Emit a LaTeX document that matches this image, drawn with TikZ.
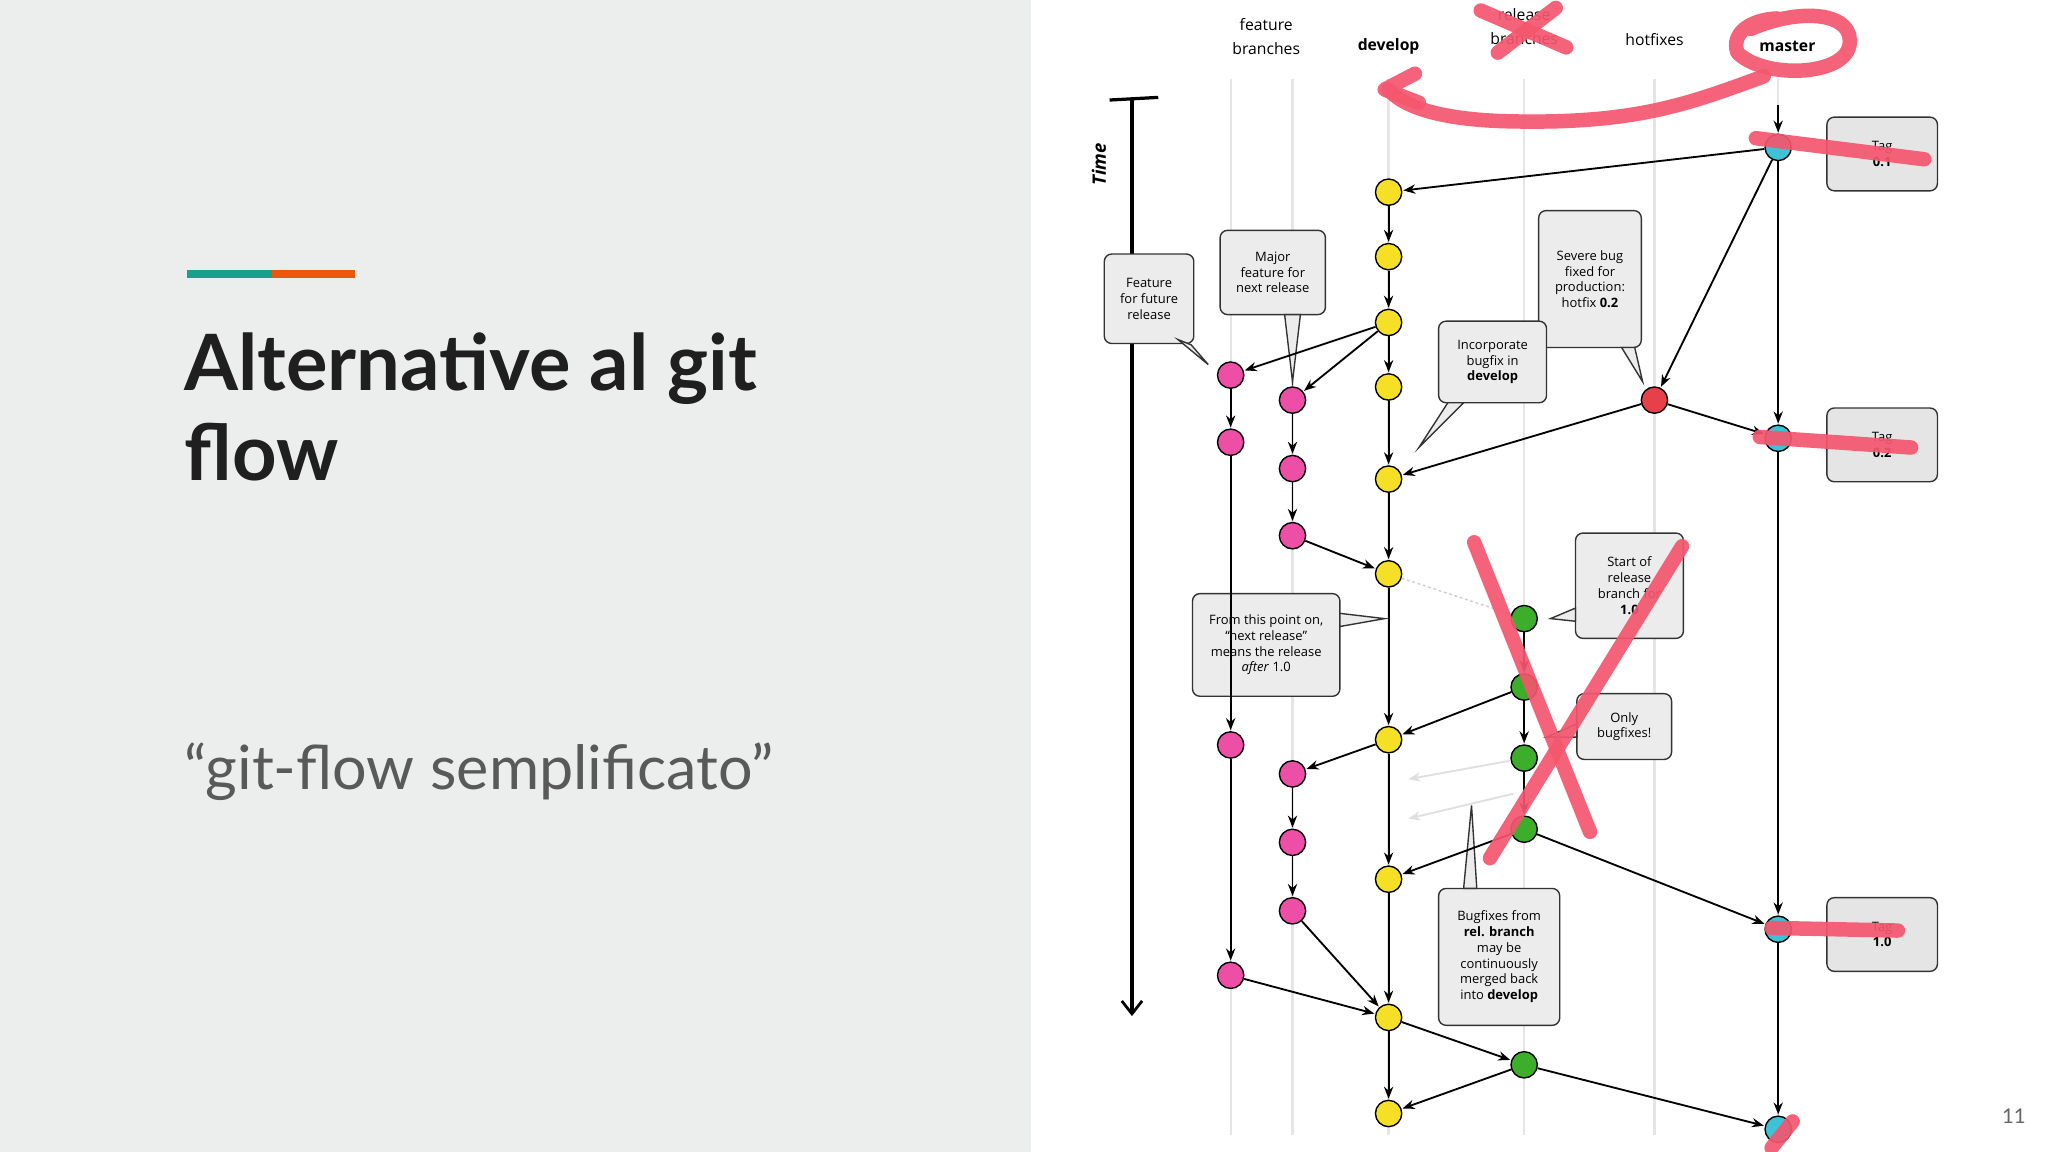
\documentclass[tikz,border=0pt]{standalone}
\usepackage{fontspec}
\setmainfont{Lato}
\newfontfamily\diag{Open Sans}
\usetikzlibrary{arrows.meta,calc}
\definecolor{panel}{HTML}{ECEEED}
\definecolor{teal1}{HTML}{17A08C}
\definecolor{orng}{HTML}{E8590C}
\definecolor{redmark}{HTML}{F4566E}
\definecolor{ylw}{HTML}{F5E025}
\definecolor{pnk}{HTML}{EE4FA6}
\definecolor{grn}{HTML}{3DAE2B}
\definecolor{cyn}{HTML}{3FC1D6}
\definecolor{hred}{HTML}{E8404A}
\begin{document}
\begin{tikzpicture}[x=0.05cm,y=-0.05cm,
 commit/.style={circle,draw=black,line width=1.5pt,minimum size=1.0cm,inner sep=0pt},
 flow/.style={-{Stealth[length=13pt,width=10pt]},line width=2pt,shorten >=1pt},
 faint/.style={-{Stealth[length=13pt,width=10pt]},line width=2pt,draw=gray!25},
 callout/.style={draw=black!80,line width=1.5pt,rounded corners=8pt,fill=gray!15,align=center,font=\diag\fontsize{14}{17}\selectfont,inner sep=5pt},
 tail/.style={draw=black!80,line width=1.5pt,fill=gray!15},
 hdr/.style={font=\diag\fontsize{17}{26}\selectfont,align=center},
 lane/.style={draw=gray!20,line width=2.5pt},
 redm/.style={draw=redmark,line width=0.55cm,line cap=round,line join=round,opacity=0.92}]
\useasboundingbox (0,0) rectangle (1556,875);
\fill[panel] (0,0) rectangle (783,875);
\fill[white] (783,0) rectangle (1556,875);
% left panel
\fill[teal1] (142,205) rectangle (207,211);
\fill[orng] (207,205) rectangle (270,211);
\node[anchor=base west,font=\bfseries\fontsize{84}{90}\selectfont,text=black!88,inner sep=0pt] (title) at (140,297) {Alternative al git};
\node[anchor=base west,font=\bfseries\fontsize{84}{90}\selectfont,text=black!88,inner sep=0pt] (title2) at (140,365) {flow};
\node[anchor=base west,font=\fontsize{66}{76}\selectfont,text=black!65,inner sep=0pt] (sub) at (140,600) {“git-flow semplificato”};
\node[font=\fontsize{22}{26}\selectfont,text=black!60] (pg) at (1530,848) {11};
% lanes
\foreach \x in {935,982,1055,1158,1257,1351} \draw[lane] (\x,60) -- (\x,862);
% headers
\node[hdr] (h1) at (962,28) {feature\\branches};
\node[hdr,font=\diag\bfseries\fontsize{17}{20}\selectfont] (h2) at (1055,35) {develop};
\node[hdr] (h3) at (1158,20) {release\\branches};
\node[hdr] (h4) at (1257,30) {hotfixes};
\node[hdr,font=\diag\bfseries\fontsize{17}{20}\selectfont] (h5) at (1358,35) {master};
% time
\coordinate (t0) at (860,76); \coordinate (t1) at (860,772);
\draw[line width=3.5pt] (843,76) -- (880,74);
\draw[line width=3.5pt,-{Straight Barb[length=14pt,width=22pt,line width=3pt]}] (t0) -- (t1);
\node[rotate=90,font=\diag\bfseries\itshape\fontsize{20}{24}\selectfont] (time) at (835,125) {Time};
% commits
\foreach \n/\y in {1/112,2/333,3/706,4/858} \node[commit,fill=cyn] (m\n) at (1351,\y) {};
\node[commit,fill=hred] (hf) at (1257,304) {};
\foreach \n/\y in {1/146,2/195,3/245,4/294,5/364,6/436,7/562,8/668,9/773,10/846} \node[commit,fill=ylw] (d\n) at (1055,\y) {};
\foreach \n/\y in {1/285,2/336,3/566,4/741} \node[commit,fill=pnk] (a\n) at (935,\y) {};
\foreach \n/\y in {1/304,2/356,3/407,4/588,5/640,6/692} \node[commit,fill=pnk] (b\n) at (982,\y) {};
\foreach \n/\y in {1/470,2/522,3/576,4/630,5/809} \node[commit,fill=grn] (r\n) at (1158,\y) {};
% callouts
\node[callout,minimum width=3.4cm,minimum height=3.4cm] (c1) at (873,227) {Feature\\for future\\release};
\draw[tail] (895,258) -- (918,277) -- (905,262) -- cycle;
\node[callout,minimum width=4cm,minimum height=3.2cm] (c2) at (967,207) {Major\\feature for\\next release};
\draw[tail] (976,239) -- (982,290) -- (988,239) -- cycle;
\node[callout,minimum width=3.9cm,minimum height=5.2cm] (c3) at (1208,212) {Severe bug\\fixed for\\production:\\hotfix \textbf{0.2}};
\draw[tail] (1232,264) -- (1248,290) -- (1242,264) -- cycle;
\node[callout,minimum width=4.1cm,minimum height=3.1cm] (c4) at (1134,275) {Incorporate\\bugfix in\\\textbf{develop}};
\draw[tail] (1100,306) -- (1078,340) -- (1112,306) -- cycle;
\node[callout,minimum width=4.1cm,minimum height=4cm] (c5) at (1238,445) {Start of\\release\\branch for\\\textbf{1.0}};
\draw[tail] (1197,462) -- (1178,470) -- (1197,472) -- cycle;
\node[callout,minimum width=5.6cm,minimum height=3.9cm] (c6) at (962,490) {From this point on,\\“next release”\\means the release\\\textit{after} 1.0};
\draw[tail] (1018,466) -- (1052,470) -- (1018,476) -- cycle;
\node[callout,minimum width=3.6cm,minimum height=2.5cm] (c7) at (1234,552) {Only\\bugfixes!};
\draw[tail] (1198,550) -- (1175,560) -- (1198,560) -- cycle;
\node[callout,minimum width=4.6cm,minimum height=5.2cm] (c8) at (1139,727) {Bugfixes from\\\textbf{rel. branch}\\may be\\continuously\\merged back\\into \textbf{develop}};
\draw[tail] (1112,675) -- (1118,612) -- (1122,675) -- cycle;
% tags
\foreach \n/\y/\t in {1/117/0.1,2/338/0.2,3/710/1.0}
  \node[callout,minimum width=4.2cm,minimum height=2.8cm,fill=gray!20] (tg\n) at (1430,\y) {Tag\\\textbf{\t}};
% flows
\coordinate (mtop) at (1351,80);
\draw[flow] (mtop) -- (m1);
\draw[flow] (m1) -- (m2); \draw[flow] (m2) -- (m3); \draw[flow] (m3) -- (m4);
\foreach \a/\b in {1/2,2/3,3/4,4/5,5/6,6/7,7/8,8/9,9/10} \draw[flow] (d\a) -- (d\b);
\draw[flow] (a1) -- (a2); \draw[flow] (a2) -- (a3); \draw[flow] (a3) -- (a4);
\draw[flow] (b1) -- (b2); \draw[flow] (b2) -- (b3); \draw[flow] (b4) -- (b5); \draw[flow] (b5) -- (b6);
\foreach \a/\b in {1/2,2/3,3/4} \draw[flow] (r\a) -- (r\b);
\draw[flow] (m1) -- (d1); \draw[flow] (m1) -- (hf);
\draw[flow] (hf) -- (m2); \draw[flow] (hf) -- (d5);
\draw[flow] (d3) -- (a1); \draw[flow] (d3) -- (b1);
\draw[flow] (b3) -- (d6);
\draw[draw=gray!40,line width=1.5pt,dashed] (d6) -- (r1);
\draw[flow] (r2) -- (d7); \draw[flow] (d7) -- (b4);
\coordinate (f1) at (1070,592); \coordinate (f2) at (1070,622);
\coordinate (rmid) at (1150,603);
\draw[faint] (r3) -- (f1); \draw[faint] (rmid) -- (f2);
\draw[flow] (r4) -- (d8); \draw[flow] (r4) -- (m3);
\draw[flow] (a4) -- (d9); \draw[flow] (b6) -- (d9);
\draw[flow] (d9) -- (r5); \draw[flow] (r5) -- (d10); \draw[flow] (r5) -- (m4);
% red marks
\draw[redm] (1125,8) -- (1190,36); \draw[redm] (1182,6) -- (1138,40);
\draw[redm] (1330,22) .. controls (1370,5) and (1410,10) .. (1405,35) .. controls (1400,58) and (1340,60) .. (1320,40) .. controls (1315,25) and (1330,15) .. (1350,14);
\draw[redm] (1340,58) .. controls (1280,80) and (1240,95) .. (1140,92) .. controls (1090,90) and (1065,80) .. (1055,68);
\draw[redm] (1075,56) -- (1052,68) -- (1078,78);
\draw[redm] (1120,412) -- (1208,632); \draw[redm] (1278,415) -- (1132,652);
\draw[redm] (1334,105) -- (1462,121);
\draw[redm] (1337,332) -- (1452,340);
\draw[redm] (1346,705) -- (1442,707);
\draw[redm] (1346,872) -- (1362,852);
\end{tikzpicture}
\end{document}
